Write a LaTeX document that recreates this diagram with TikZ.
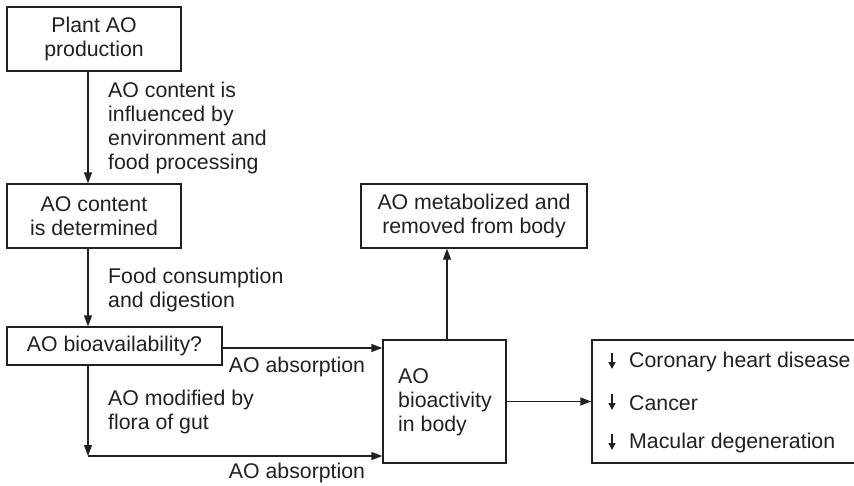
\documentclass[tikz,border=0pt]{standalone}
\usepackage{fontspec}
\setmainfont{Liberation Sans}
\usetikzlibrary{arrows.meta}
\definecolor{ink}{HTML}{231F20}
\begin{document}
\begin{tikzpicture}[x=1pt,y=-1pt,
  every node/.style={font=\fontsize{21.3}{24}\selectfont, text=ink},
  boxr/.style={draw=ink, line width=1.3pt, inner sep=0pt, align=center},
  lbl/.style={inner sep=0pt, align=left},
  arr/.style={draw=ink, line width=1.3pt, -{Triangle[length=11pt,width=8pt]}},
  dn/.style={draw=ink, line width=1.4pt, -{Triangle[length=7pt,width=7pt]}}]
\useasboundingbox (0,0) rectangle (854,485);
\clip (0,0) rectangle (854,485);
\coordinate (c88) at (88,0);
% boxes
\node[boxr, minimum width=174pt, minimum height=64pt] (p1) at (94,39) {Plant AO\\production};
\node[boxr, minimum width=174pt, minimum height=64pt] (p2) at (94,216) {AO content\\is determined};
\node[boxr, minimum width=215pt, minimum height=38pt] (p3) at (114.5,346) {AO bioavailability?};
\node[boxr, minimum width=226pt, minimum height=64pt] (met) at (474,216) {AO metabolized and\\removed from body};
\node[boxr, minimum width=123pt, minimum height=123pt] (bio) at (444.5,401.5) {};
\node[lbl, anchor=west] (biot) at (398,402) {AO\\bioactivity\\in body};
\node[boxr, minimum width=264pt, minimum height=123pt] (dis) at (724,401.5) {};
\node[lbl, anchor=west] (d1) at (629,362) {Coronary heart disease};
\node[lbl, anchor=west] (d2) at (629,403) {Cancer};
\node[lbl, anchor=west] (d3) at (629,443) {Macular degeneration};
\foreach \d in {d1,d2,d3}
  \draw[dn] ([xshift=-17pt,yshift=9pt]\d.west) -- ([xshift=-17pt,yshift=-7pt]\d.west);
% labels
\node[lbl, anchor=west] (l1) at (108,127.5) {AO content is\\influenced by\\environment and\\food processing};
\node[lbl, anchor=west] (l2) at (108,290) {Food consumption\\and digestion};
\node[lbl, anchor=west] (l3) at (108,411.5) {AO modified by\\flora of gut};
\node[lbl] (a1) at (297,367) {AO absorption};
\node[lbl] (a2) at (297,473) {AO absorption};
% connectors
\coordinate (corner) at (88,456);
\draw[arr] (p1.south -| c88) -- (p2.north -| c88);
\draw[arr] (p2.south -| c88) -- (p3.north -| c88);
\draw[arr] (p3.east |- 0,348) -- (bio.west |- 0,348);
\draw[arr] (p3.south -| c88) -- (corner);
\draw[arr] (corner) -- (corner -| bio.west);
\draw[arr] (bio.north -| 447,0) -- (met.south -| 447,0);
\draw[arr] (bio.east) -- (dis.west);
\end{tikzpicture}
\end{document}
